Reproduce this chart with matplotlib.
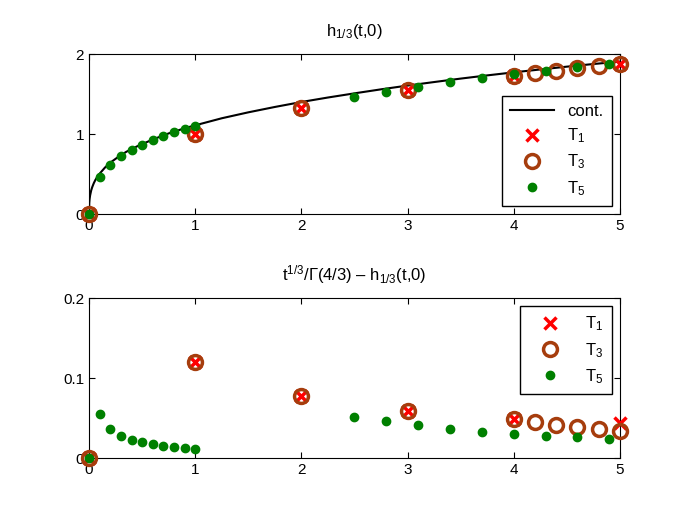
import matplotlib
matplotlib.use("Agg")
import matplotlib.pyplot as plt

plt.rcParams['font.family'] = ['Liberation Sans', 'DejaVu Sans']
plt.rcParams['mathtext.fontset'] = 'custom'
plt.rcParams['mathtext.rm'] = 'Liberation Sans'
plt.rcParams['mathtext.it'] = 'Liberation Sans'
plt.rcParams['font.size'] = 10

# continuous solution h_{1/3}(t,0)
t_cont = [0, 0.002, 0.005, 0.01, 0.02, 0.03, 0.045, 0.06, 0.08, 0.1, 0.15, 0.2, 0.27, 0.35,
          0.45, 0.6, 0.75, 0.9, 1.0, 1.25, 1.5, 1.75, 2.0, 2.25, 2.5, 2.75, 3.0, 3.25, 3.5,
          3.75, 4.0, 4.25, 4.5, 4.75, 5.0]
h_cont = [0, 0.140, 0.190, 0.236, 0.298, 0.340, 0.390, 0.430, 0.472, 0.508, 0.584, 0.645,
          0.712, 0.780, 0.847, 0.934, 1.010, 1.074, 1.111, 1.199, 1.273, 1.340, 1.402,
          1.458, 1.510, 1.560, 1.607, 1.651, 1.694, 1.734, 1.772, 1.808, 1.843, 1.876, 1.906]

# T1 scheme
t_T1 = [0, 1, 2, 3, 4, 5]
h_T1 = [0, 1.000, 1.333, 1.556, 1.728, 1.871]
err_T1 = [0, 0.120, 0.078, 0.059, 0.049, 0.044]

# T3 scheme
t_T3 = [0, 1, 2, 3, 4, 4.2, 4.4, 4.6, 4.8, 5]
h_T3 = [0, 1.000, 1.333, 1.556, 1.728, 1.761, 1.793, 1.823, 1.852, 1.880]
err_T3 = [0, 0.120, 0.078, 0.059, 0.049, 0.0455, 0.042, 0.0396, 0.037, 0.0346]

# T5 scheme
t_T5 = [0, 0.1, 0.2, 0.3, 0.4, 0.5, 0.6, 0.7, 0.8, 0.9, 1.0,
        2.5, 2.8, 3.1, 3.4, 3.7, 4.0, 4.3, 4.6, 4.9]
h_T5 = [0, 0.464, 0.619, 0.722, 0.802, 0.869, 0.927, 0.979, 1.025, 1.068, 1.108,
        1.468, 1.532, 1.592, 1.647, 1.699, 1.747, 1.793, 1.836, 1.878]
err_T5 = [0, 0.0556, 0.0362, 0.0278, 0.0227, 0.0198, 0.0173, 0.0156, 0.0143, 0.0135, 0.0122,
          0.052, 0.046, 0.041, 0.037, 0.0333, 0.0303, 0.0283, 0.0265, 0.0245]

brown = (0.65, 0.24, 0.05)
green = (0.0, 0.5, 0.0)

x_style = dict(linestyle='none', marker='x', color='red', markersize=8, markeredgewidth=2.5,
               clip_on=False, zorder=3)
o_style = dict(linestyle='none', marker='o', markerfacecolor='none', markeredgecolor=brown,
               markersize=10, markeredgewidth=2.5, clip_on=False, zorder=3)
d_style = dict(linestyle='none', marker='o', color=green, markersize=6, clip_on=False, zorder=4)

fig = plt.figure(figsize=(6.85, 5.15), dpi=100)
ax1 = fig.add_axes([0.13, 0.5838, 0.775, 0.3112])
ax2 = fig.add_axes([0.13, 0.11, 0.775, 0.3112])

legend_opts = dict(fancybox=False, edgecolor='black', framealpha=1, fontsize=12,
                   borderaxespad=0.5, labelspacing=0.45, handlelength=2.6, borderpad=0.5)

ax1.plot(t_cont, h_cont, color='black', linewidth=1.5, label='cont.')
ax1.plot(t_T1, h_T1, label='T$_1$', **x_style)
ax1.plot(t_T3, h_T3, label='T$_3$', **o_style)
ax1.plot(t_T5, h_T5, label='T$_5$', **d_style)
ax1.set_xlim(0, 5)
ax1.set_ylim(0, 2)
ax1.set_yticks([0, 1, 2])
ax1.set_title('h$_{1/3}$(t,0)', fontsize=12, pad=13)
ax1.legend(loc='lower right', **legend_opts)

ax2.plot(t_T1, err_T1, label='T$_1$', **x_style)
ax2.plot(t_T3, err_T3, label='T$_3$', **o_style)
ax2.plot(t_T5, err_T5, label='T$_5$', **d_style)
ax2.set_xlim(0, 5)
ax2.set_ylim(0, 0.2)
ax2.set_yticks([0, 0.1, 0.2])
ax2.set_yticklabels(['0', '0.1', '0.2'])
ax2.set_title('t$^{1/3}$/\u0393(4/3) \u2013 h$_{1/3}$(t,0)', fontsize=12, pad=13)
ax2.legend(loc='upper right', **legend_opts)

for ax in (ax1, ax2):
    ax.tick_params(direction='in', top=True, right=True, length=4, labelsize=11)
    for s in ax.spines.values():
        s.set_linewidth(0.8)

fig.savefig('out.png', dpi=100)
